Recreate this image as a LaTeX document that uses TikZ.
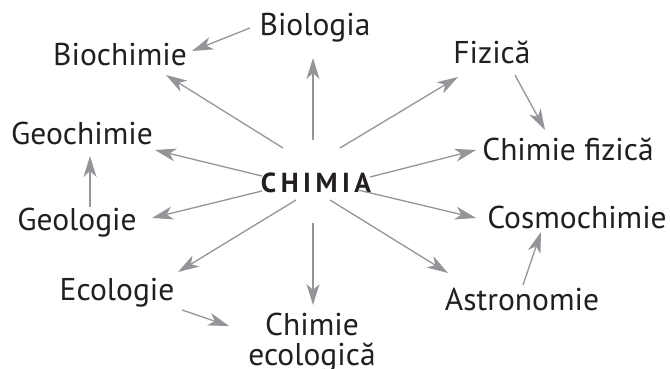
\documentclass[tikz,border=0pt]{standalone}
\usepackage{fontspec}
\setmainfont{PT Sans}
\usetikzlibrary{arrows.meta}
\definecolor{txt}{HTML}{231F20}
\definecolor{arrgray}{HTML}{939598}
\tikzset{
  lbl/.style={anchor=base, inner sep=0pt, text=txt, font=\fontsize{31.5}{27}\selectfont},
  main/.style={anchor=base, inner sep=0pt, text=txt, font=\fontsize{27.5}{30}\selectfont\bfseries},
  arr/.style={draw=arrgray, line width=1.3pt, -{Stealth[length=21pt,width=13pt,inset=6pt]}}
}
\newcommand{\lsp}{\kern4.5pt}
\begin{document}
\begin{tikzpicture}[x=1pt,y=-1pt]
\useasboundingbox[fill=white] (0,0) rectangle (670,369);
\node[main] (chimia) at (316,192) {C\lsp H\lsp I\lsp M\lsp I\lsp A};
\node[lbl] (biologia) at (315,36) {Biologia};
\node[lbl] (biochimie) at (120,66) {Biochimie};
\node[lbl] (fizica) at (492,64) {Fizică};
\node[lbl] (chfiz) at (568,160) {Chimie fizică};
\node[lbl] (geochimie) at (82,144) {Geochimie};
\node[lbl] (geologie) at (77,230) {Geologie};
\node[lbl] (cosmo) at (577,228) {Cosmochimie};
\node[lbl] (ecologie) at (117,300) {Ecologie};
\node[lbl] (astro) at (522,310) {Astronomie};
\node[lbl] (checo) at (312,335) {\begin{tabular}[t]{@{}c@{}}Chimie\\ecologică\end{tabular}};
% from CHIMIA
\draw[arr] ([shift={(-3,-52)}]chimia.base) -- ([shift={(-2,22)}]biologia.base);
\draw[arr] ([shift={(-33,-44)}]chimia.base) -- ([shift={(46,9)}]biochimie.base);
\draw[arr] ([shift={(-54,-16)}]chimia.base) -- ([shift={(73,6)}]geochimie.base);
\draw[arr] ([shift={(-54,-1)}]chimia.base) -- ([shift={(75,-12)}]geologie.base);
\draw[arr] ([shift={(-20,8)}]chimia.base) -- ([shift={(61,-28)}]ecologie.base);
\draw[arr] ([shift={(-3,31)}]chimia.base) -- ([shift={(1,-30)}]checo.base);
\draw[arr] ([shift={(42,-2)}]chimia.base) -- ([shift={(-101,-10)}]cosmo.base);
\draw[arr] ([shift={(14,8)}]chimia.base) -- ([shift={(-74,-37)}]astro.base);
\draw[arr] ([shift={(54,-15)}]chimia.base) -- ([shift={(-92,-10)}]chfiz.base);
\draw[arr] ([shift={(24,-44)}]chimia.base) -- ([shift={(-34,13)}]fizica.base);
% side links
\draw[arr] ([shift={(-65,-8)}]biologia.base) -- ([shift={(72,-15)}]biochimie.base);
\draw[arr] ([shift={(13,-23)}]geologie.base) -- ([shift={(8,12)}]geochimie.base);
\draw[arr] ([shift={(65,10)}]ecologie.base) -- ([shift={(-83,-9)}]checo.base);
\draw[arr] ([shift={(23,11)}]fizica.base) -- ([shift={(-23,-30)}]chfiz.base);
\draw[arr] ([shift={(1,-25)}]astro.base) -- ([shift={(-36,4)}]cosmo.base);
\end{tikzpicture}
\end{document}
